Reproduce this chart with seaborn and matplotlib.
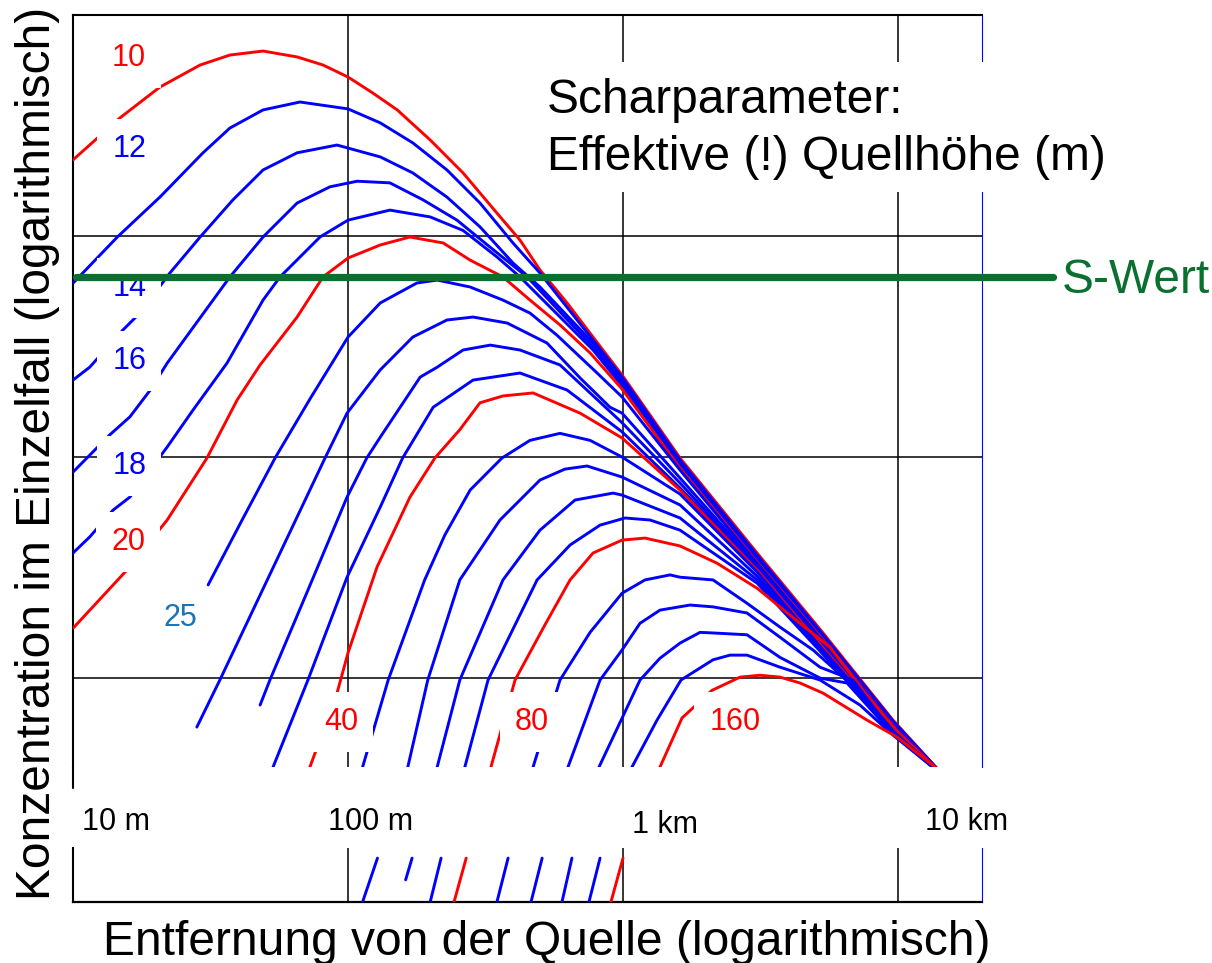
import matplotlib
matplotlib.use('Agg')
import matplotlib.pyplot as plt
from matplotlib.patches import Rectangle
from matplotlib.lines import Line2D
from matplotlib.ticker import NullLocator
import seaborn as sns

sns.set_style('white')
plt.rcParams['font.family'] = ['Liberation Sans', 'DejaVu Sans']
plt.rcParams['text.color'] = 'black'

RED = '#ff0000'
BLUE = '#0000ff'
GREEN = '#0a7030'

# ground level concentration vs. distance, one curve per effective source height
# distance in m, concentration in relative units (log-log)
dist_h10 = [10.0, 14.8, 20.7, 29.0, 37.2, 49.1, 65.3, 81.1, 100, 123, 151, 199, 262, 348, 422, 499, 626, 778, 992, 1612, 3072, 5338, 9590, 14820]
conc_h10 = [221, 342, 472, 594, 659, 687, 646, 594, 524, 444, 372, 272, 193, 127, 95.9, 70.2, 49.8, 34.9, 23.5, 9.9, 3.68, 1.60, 0.645, 0.356]

dist_h12 = [10.0, 14.5, 20.7, 29.7, 37.2, 49.1, 66.9, 100, 131, 172, 229, 302, 398, 499, 778, 992, 1612, 3072, 5338, 9590, 14820]
conc_h12 = [61.2, 99.0, 150, 238, 308, 372, 404, 376, 325, 264, 199, 141, 93.0, 68.0, 33.8, 23.0, 9.69, 3.60, 1.57, 0.639, 0.356]

dist_h14 = [10.0, 11.5, 15.2, 17.5, 22.5, 29.0, 38.2, 49.1, 65.3, 91.2, 131, 172, 229, 302, 398, 499, 778, 992, 1612, 3072, 5338, 9590, 14820]
conc_h14 = [22.3, 25.5, 37.6, 44.8, 68.0, 99.0, 146, 199, 238, 258, 228, 193, 150, 110, 75.5, 58.8, 32.8, 22.3, 9.49, 3.53, 1.55, 0.632, 0.356]

dist_h16 = [10.0, 13.6, 16.1, 19.1, 22.0, 32.3, 37.2, 49.1, 65.3, 86.0, 108, 142, 187, 249, 328, 448, 778, 992, 1612, 3072, 5338, 9590, 14820]
conc_h16 = [8.55, 12.6, 15.2, 20.1, 26.6, 51.3, 65.3, 99.0, 141, 167, 177, 174, 146, 118, 89.2, 65.3, 31.5, 21.6, 9.20, 3.46, 1.53, 0.626, 0.356]

dist_h18 = [10.0, 11.5, 14.0, 16.1, 22.0, 27.3, 36.3, 49.1, 56.6, 79.1, 100, 142, 199, 262, 348, 422, 778, 992, 1612, 3072, 5338, 9590, 14820]
conc_h18 = [3.68, 4.35, 5.76, 6.59, 11.1, 16.3, 26.6, 51.3, 65.3, 99.0, 118, 131, 122, 106, 80.4, 65.3, 30.5, 21.0, 9.01, 3.42, 1.52, 0.619, 0.356]

dist_h20 = [10.0, 15.7, 22.0, 30.7, 39.5, 47.9, 65.3, 81.1, 100, 131, 168, 222, 278, 366, 459, 590, 759, 992, 1612, 3072, 5338, 9590, 14820]
conc_h20 = [1.68, 3.08, 5.19, 9.9, 18.1, 26.1, 43.0, 65.3, 79.5, 91.1, 99.0, 93.0, 77.8, 65.3, 51.3, 39.6, 29.6, 20.3, 8.92, 3.35, 1.49, 0.613, 0.356]

dist_h25 = [31.0, 41.2, 54.3, 72.7, 100, 131, 178, 211, 278, 366, 459, 575, 805, 992, 1612, 3072, 5338, 9590, 14820]
conc_h25 = [2.64, 5.19, 9.9, 18.3, 34.9, 49.8, 61.3, 63.2, 58.8, 51.3, 44.8, 35.6, 24.0, 18.7, 8.73, 3.31, 1.47, 0.613, 0.356]

dist_h30 = [28.2, 34.2, 82.5, 99.2, 131, 172, 229, 285, 379, 529, 698, 897, 992, 1612, 3072, 5338, 9590, 14820]
conc_h30 = [0.600, 0.98, 9.9, 15.8, 24.8, 34.9, 41.7, 43.0, 40.4, 32.8, 22.8, 16.8, 15.8, 8.04, 3.25, 1.44, 0.606, 0.356]

dist_h35 = [47.9, 52.0, 71.5, 99.2, 117, 131, 183, 211, 262, 329, 422, 590, 992, 1612, 3072, 5338, 9590, 14820]
conc_h35 = [0.755, 0.98, 2.50, 6.59, 9.9, 12.3, 23.0, 25.5, 30.5, 32.1, 30.5, 26.1, 14.3, 7.63, 3.18, 1.41, 0.600, 0.356]

dist_h37 = [52.0, 53.4, 71.5, 99.2, 131, 158, 204, 285, 422, 626, 992, 1612, 3072, 5338, 9590, 14820]
conc_h37 = [0.356, 0.396, 0.98, 2.86, 5.94, 9.9, 16.8, 22.3, 24.0, 20.1, 13.0, 7.24, 3.15, 1.40, 0.594, 0.356]

dist_h40 = [69.8, 72.7, 91.2, 100, 127.5, 168, 207, 255, 302, 366, 471, 698, 992, 1612, 3072, 5338, 9590, 14820]
conc_h40 = [0.356, 0.396, 0.855, 1.30, 3.18, 6.59, 9.9, 13.3, 17.6, 18.9, 19.5, 15.8, 12.2, 7.09, 3.08, 1.37, 0.588, 0.356]

dist_h50 = [111, 113, 140, 190, 225, 278, 363, 459, 590, 759, 992, 1612, 3072, 5338, 9590, 14820]
conc_h50 = [0.356, 0.396, 0.98, 2.78, 4.44, 7.09, 9.9, 11.9, 12.8, 11.9, 10.0, 6.80, 3.02, 1.34, 0.582, 0.356]

dist_h60 = [161, 165, 195, 255, 357, 499, 615, 740, 992, 1612, 3072, 5338, 9590, 14820]
conc_h60 = [0.356, 0.396, 0.98, 2.78, 5.19, 7.87, 8.82, 9.11, 8.12, 6.07, 2.89, 1.33, 0.576, 0.356]

dist_h65 = [206, 211, 255, 366, 499, 669, 920, 992, 1612, 3072, 5338, 9590, 14820]
conc_h65 = [0.356, 0.396, 0.98, 2.78, 4.67, 6.39, 6.87, 6.73, 5.30, 2.78, 1.30, 0.570, 0.356]

dist_h70 = [260, 266, 323, 487, 642, 825, 1017, 1254, 1612, 3072, 5338, 9590, 14820]
conc_h70 = [0.356, 0.396, 0.98, 2.78, 4.00, 4.92, 5.30, 5.19, 4.67, 2.69, 1.28, 0.564, 0.356]

dist_h80 = [323, 331, 405, 520, 642, 778, 992, 1202, 1612, 2197, 3072, 4401, 5657, 7457, 9917, 14820]
conc_h80 = [0.356, 0.396, 0.98, 1.74, 2.78, 3.68, 4.21, 4.30, 3.96, 3.31, 2.55, 1.77, 1.38, 0.88, 0.576, 0.356]

dist_h100 = [459, 471, 590, 759, 992, 1202, 1482, 1612, 2125, 2824, 3724, 4909, 7272, 9590, 14820]
conc_h100 = [0.356, 0.396, 0.98, 1.61, 2.42, 2.78, 2.93, 2.86, 2.78, 2.18, 1.70, 1.34, 0.864, 0.576, 0.356]

dist_h115 = [615, 631, 825, 992, 1153, 1363, 1752, 2125, 2824, 3724, 5205, 6862, 9590, 14820]
conc_h115 = [0.356, 0.396, 0.98, 1.34, 1.77, 2.03, 2.14, 2.10, 1.97, 1.53, 1.12, 0.98, 0.564, 0.356]

dist_h130 = [798, 818, 1153, 1363, 1612, 1905, 2125, 2824, 3724, 5205, 6525, 9590, 14820]
conc_h130 = [0.356, 0.396, 0.98, 1.23, 1.44, 1.61, 1.60, 1.57, 1.24, 1.00, 0.95, 0.558, 0.356]

dist_h145 = [1051, 1078, 1329, 1625, 2125, 2449, 2824, 3724, 5205, 7272, 9590, 14820]
conc_h145 = [0.356, 0.396, 0.645, 0.98, 1.21, 1.27, 1.27, 1.12, 0.98, 0.755, 0.552, 0.356]

dist_h160 = [1329, 1363, 1639, 2107, 2665, 3148, 3724, 4401, 5338, 7718, 9917, 13630, 14100]
conc_h160 = [0.356, 0.396, 0.66, 0.88, 1.01, 1.03, 1.01, 0.95, 0.855, 0.645, 0.541, 0.396, 0.356]

# short pieces visible in the bottom strip below the distance labels
low_dist_top = [128, 171, 218, 269, 382, 508, 652, 825, 1000]
low_dist_bot = [113, 162, 199, 243, 348, 463, 600, 752, 904]
low_conc_top = [0.153, 0.153, 0.153, 0.153, 0.153, 0.153, 0.153, 0.153, 0.153]
low_conc_bot = [0.097, 0.122, 0.097, 0.097, 0.097, 0.097, 0.097, 0.097, 0.097]
low_colors = [BLUE, BLUE, BLUE, RED, BLUE, BLUE, BLUE, BLUE, RED]

s_wert = 65.3

label_text = ['10', '12', '14', '16', '18', '20', '25', '40', '80', '160']
label_dist = [16.0, 16.0, 16.0, 16.0, 16.0, 15.85, 24.5, 94.3, 467, 2555]
label_conc = [639, 248, 58.2, 27.2, 9.11, 4.13, 1.87, 0.632, 0.632, 0.632]
label_color = [RED, BLUE, BLUE, BLUE, BLUE, RED, '#1a74b8', RED, RED, RED]

tick_text = ['10 m', '100 m', '1 km', '10 km']

curves = [
    (dist_h10, conc_h10, RED), (dist_h12, conc_h12, BLUE), (dist_h14, conc_h14, BLUE),
    (dist_h16, conc_h16, BLUE), (dist_h18, conc_h18, BLUE), (dist_h20, conc_h20, RED),
    (dist_h25, conc_h25, BLUE), (dist_h30, conc_h30, BLUE), (dist_h35, conc_h35, BLUE),
    (dist_h37, conc_h37, BLUE), (dist_h40, conc_h40, RED), (dist_h50, conc_h50, BLUE),
    (dist_h60, conc_h60, BLUE), (dist_h65, conc_h65, BLUE), (dist_h70, conc_h70, BLUE),
    (dist_h80, conc_h80, RED), (dist_h100, conc_h100, BLUE), (dist_h115, conc_h115, BLUE),
    (dist_h130, conc_h130, BLUE), (dist_h145, conc_h145, BLUE), (dist_h160, conc_h160, RED),
]

W, H = 1212, 963
fig = plt.figure(figsize=(W / 100, H / 100), dpi=100)

x_left, x_right = 73, 982
ax = fig.add_axes([x_left / W, (H - 767) / H, (x_right - x_left) / W, (767 - 15) / H])
ax_low = fig.add_axes([x_left / W, (H - 902) / H, (x_right - x_left) / W, (902 - 848) / H])

for a in (ax, ax_low):
    a.set_xscale('log')
    a.set_yscale('log')
    a.set_xlim(10, 2.02e4)
    a.set_xticks([100, 1000, 10000])
    a.xaxis.set_minor_locator(NullLocator())
    a.yaxis.set_minor_locator(NullLocator())
    a.tick_params(length=0, labelleft=False, labelbottom=False)
    a.set_axisbelow(True)
    a.spines['left'].set_color('black')
    a.spines['left'].set_linewidth(1.5)
    a.spines['right'].set_color(BLUE)
    a.spines['right'].set_linewidth(0.8)

ax.set_ylim(0.396, 1000)
ax.set_yticks([1, 10, 100])
ax.yaxis.set_minor_locator(NullLocator())
ax.grid(True, color='black', lw=1.1)
ax.spines['top'].set_color('black')
ax.spines['top'].set_linewidth(1.5)
ax.spines['bottom'].set_visible(False)

ax_low.set_ylim(0.0969, 0.170)
ax_low.set_yticks([])
ax_low.grid(True, axis='x', color='black', lw=1.1)
ax_low.spines['top'].set_visible(False)
ax_low.spines['bottom'].set_color('black')
ax_low.spines['bottom'].set_linewidth(1.6)

for xs, ys, col in curves:
    sns.lineplot(x=xs, y=ys, ax=ax, color=col, lw=2.1, sort=False, estimator=None,
                 zorder=3, solid_joinstyle='round')

for i in range(len(low_dist_top)):
    sns.lineplot(x=[low_dist_top[i], low_dist_bot[i]], y=[low_conc_top[i], low_conc_bot[i]],
                 ax=ax_low, color=low_colors[i], lw=2.1, sort=False, estimator=None, zorder=3)

for a in (ax, ax_low):
    a.set_xlabel('')
    a.set_ylabel('')

for t, xv, yv, c in zip(label_text, label_dist, label_conc, label_color):
    ax.text(xv, yv, t, color=c, fontsize=22, ha='center', va='center', zorder=4,
            bbox=dict(boxstyle='square,pad=0.5', fc='white', ec='none'))

ax.axhline(s_wert, xmin=0.003, xmax=(1053 - x_left) / (x_right - x_left), color=GREEN,
           lw=5.2, clip_on=False, zorder=5)

# left axis line continues a bit into the label strip
fig.add_artist(Line2D([x_left / W, x_left / W], [(H - 788) / H, (H - 767) / H],
                      color='black', lw=1.5, transform=fig.transFigure))

# white box behind the header text
fig.add_artist(Rectangle((538 / W, (H - 192) / H), (1112 - 538) / W, 130 / H,
                         transform=fig.transFigure, fc='white', ec='none', zorder=3))
fig.text(547 / W, (H - 113) / H, 'Scharparameter:', fontsize=34.5, va='baseline', zorder=4)
fig.text(547 / W, (H - 170) / H, 'Effektive (!) Quellhöhe (m)', fontsize=34.5, va='baseline', zorder=4)
fig.text(1062 / W, (H - 293) / H, 'S-Wert', fontsize=34.5, color=GREEN, va='baseline', zorder=4)

tick_px = [(82, 830), (328, 830), (632, 833), (925, 830)]
for t, (px, py) in zip(tick_text, tick_px):
    fig.text(px / W, (H - py) / H, t, fontsize=22, va='baseline')

fig.text(103 / W, (H - 955) / H, 'Entfernung von der Quelle (logarithmisch)', fontsize=34.5, va='baseline')
fig.text(50 / W, (H - 453) / H, 'Konzentration im Einzelfall (logarithmisch)', fontsize=34.5,
         rotation=90, rotation_mode='anchor', ha='center', va='baseline')

fig.savefig('out.png', dpi=100)
